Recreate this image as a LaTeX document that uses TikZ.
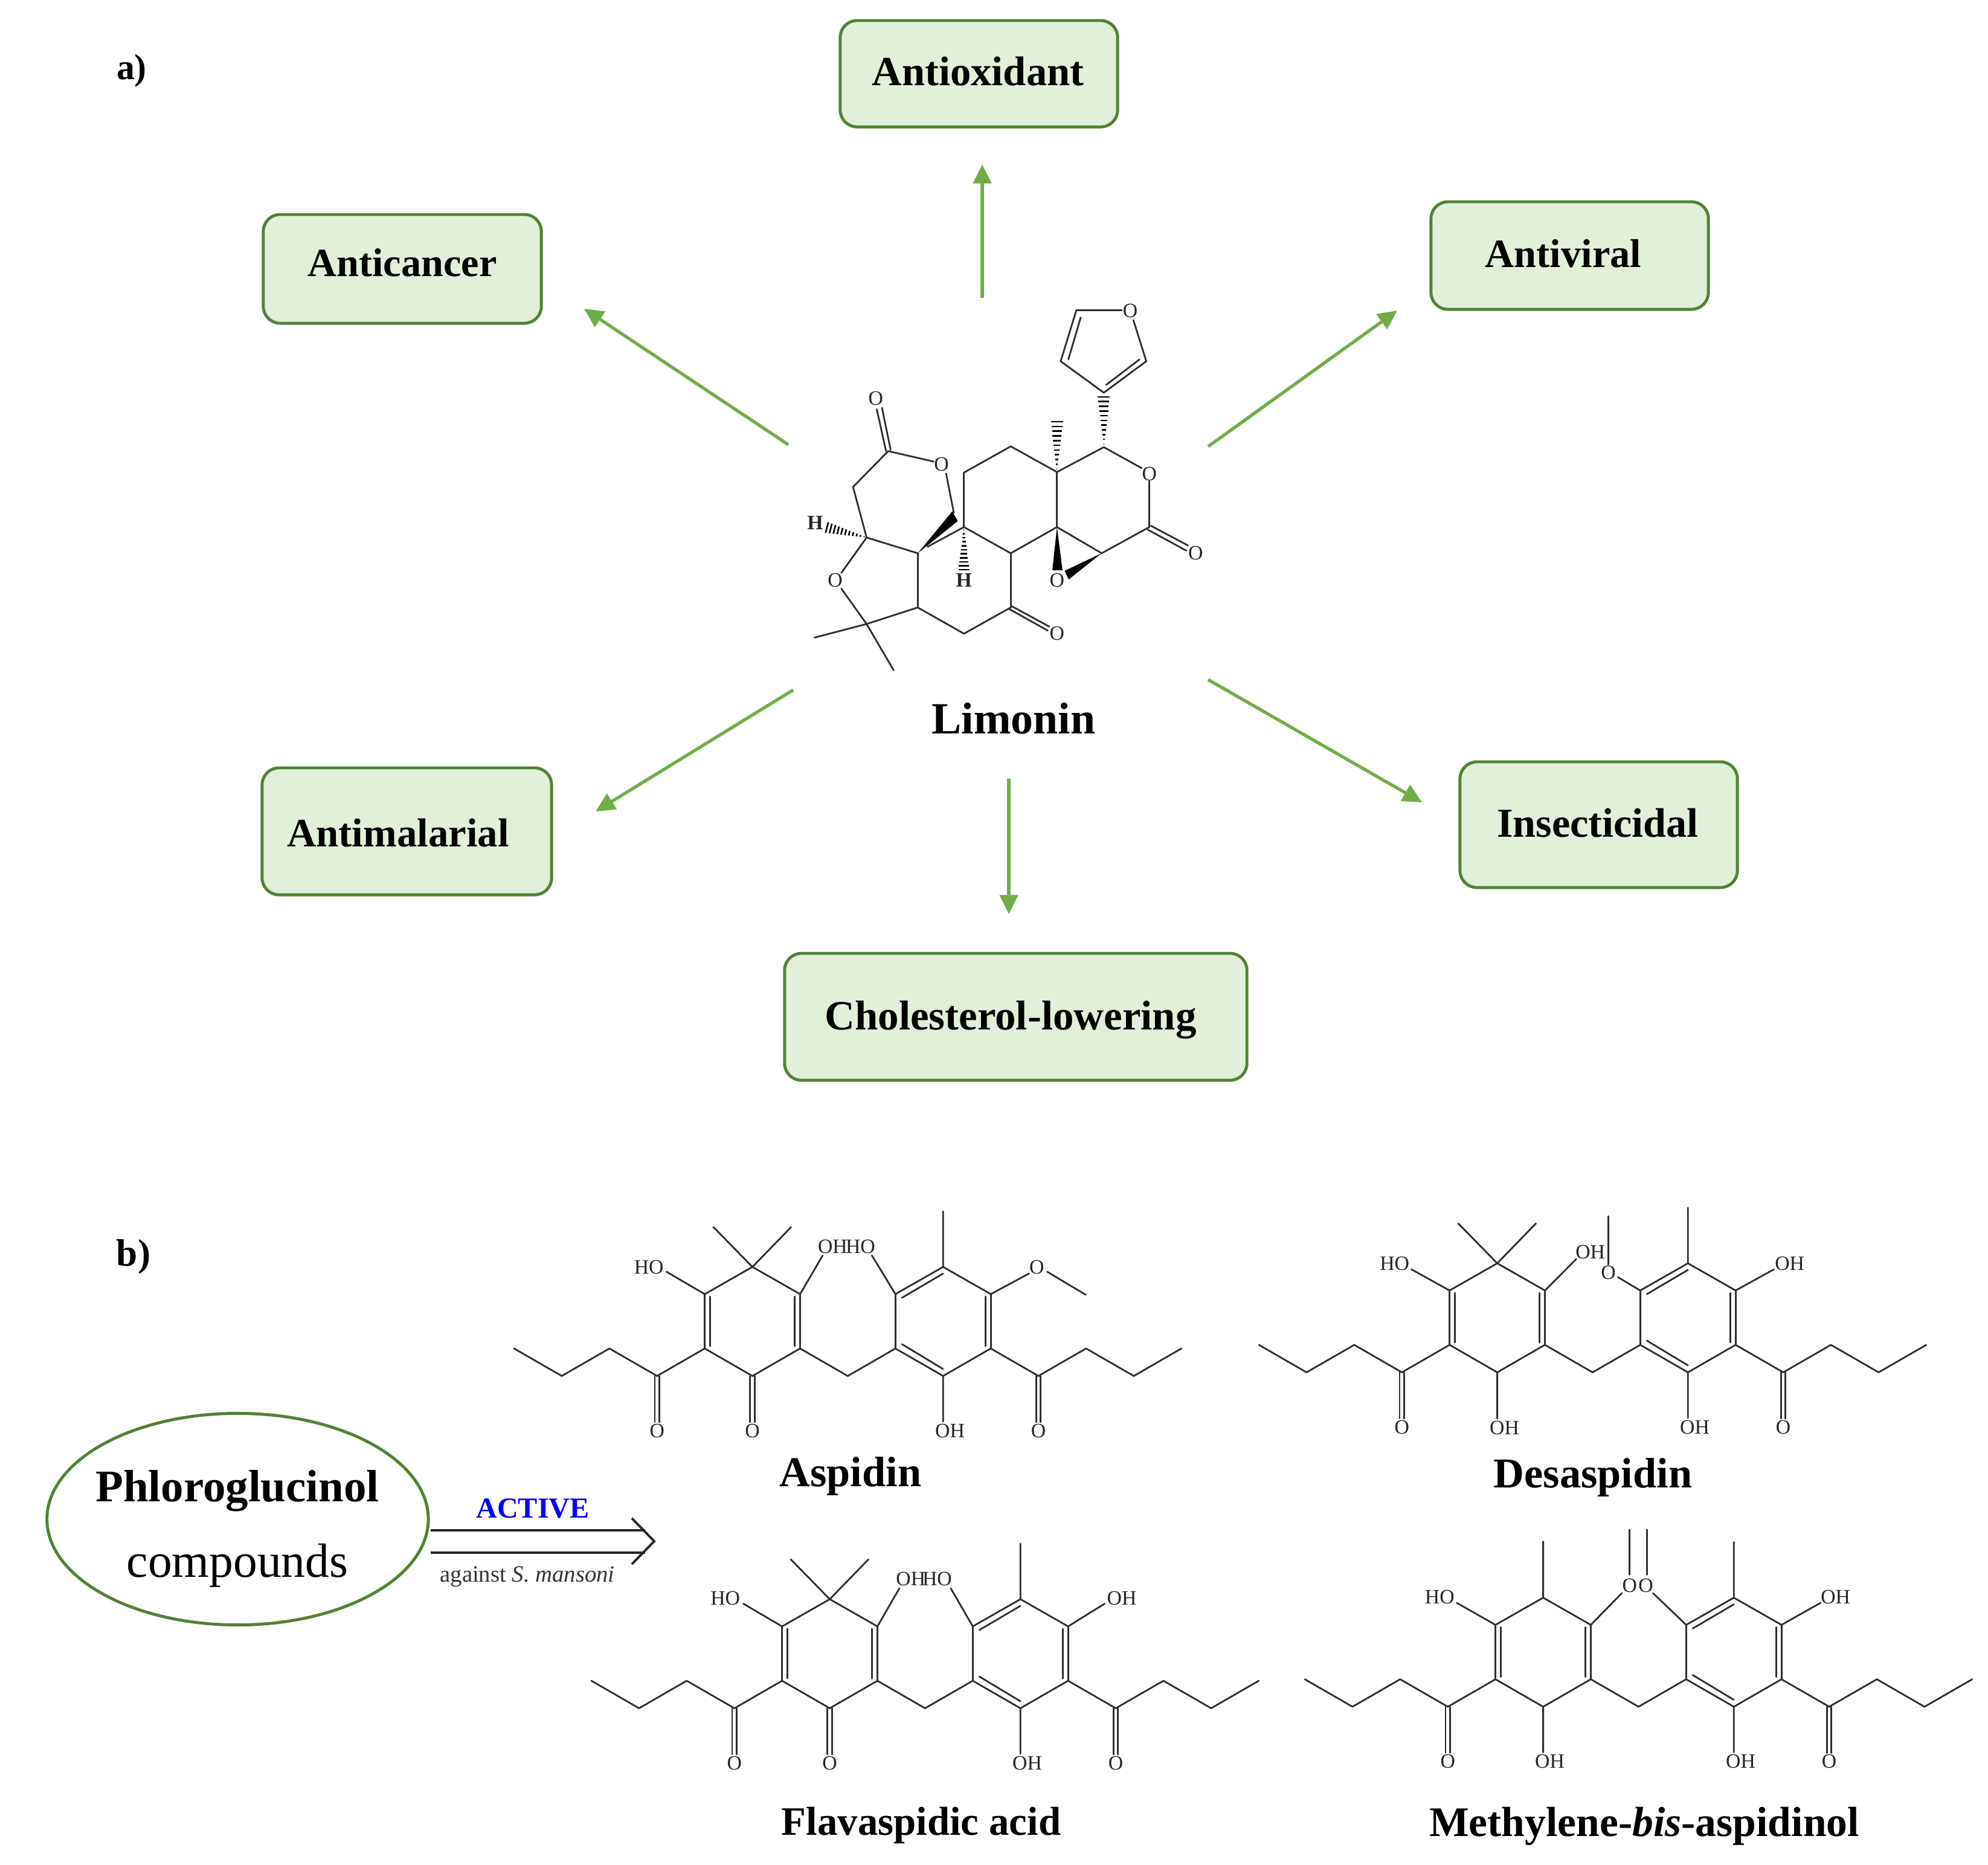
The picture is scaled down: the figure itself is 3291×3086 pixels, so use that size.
\documentclass[tikz,border=0pt]{standalone}
\usepackage{fontspec}
\setmainfont{Liberation Serif}
\usetikzlibrary{arrows.meta,calc,shapes.geometric}
\definecolor{boxfill}{HTML}{E2EFD9}
\definecolor{boxline}{HTML}{538135}
\definecolor{arrowgreen}{HTML}{70AD47}
\newcommand{\fs}[1]{\fontsize{#1}{#1}\selectfont}
\tikzset{
  bond/.style={line width=0.8pt,draw=black!82,line cap=round,line join=round},
  hashline/.style={line width=0.75pt,draw=black},
  wedge/.style={fill=black,draw=none},
  atom/.style={inner sep=0pt,text=black!85,font=\fs{9.6}},
  hatom/.style={inner sep=0pt,text=black!85,font=\bfseries\fs{9.6}},
  box/.style={draw=boxline,fill=boxfill,line width=1.4pt,rounded corners=0.28cm},
  boxtext/.style={anchor=base,inner sep=0pt,font=\bfseries\fs{#1}},
  title/.style={anchor=base,inner sep=0pt,font=\bfseries\fs{#1}},
  arr/.style={draw=arrowgreen,line width=1.5pt,-{Triangle[length=9pt,width=8.5pt,fill=arrowgreen]}},
  thickline/.style={line width=1.1pt,draw=black!85,line join=miter},
  dimer/.style={shift={#1},x=0.00993cm}
}
% hashed bond: narrow at #1, half width #3 at #2
\newcommand{\hashb}[3]{%
  \foreach \t in {0.06,0.15,...,1.0}{%
    \draw[hashline] ($(#1)!\t!(#2)!\t*#3!90:(#2)$) -- ($(#1)!\t!(#2)!\t*#3!-90:(#2)$);
  }%
}
% double bond drawn as two lines through four named coordinates
\newcommand{\pairbond}[3]{%
  \coordinate (#1L) at (#2-3.8,45.5);
  \coordinate (#1R) at (#2+3.8,45.5);
  \coordinate (#1LE) at (#2-3.8,#3);
  \coordinate (#1RE) at (#2+3.8,#3);
  \draw[bond] (#1L) -- (#1LE);
  \draw[bond] (#1R) -- (#1RE);
}
% common skeleton of the four phloroglucinol dimers
\newcommand{\skeleton}{%
  \foreach \n/\i/\y in {c0/0/0,c1/1/45.5,c2/2/0,c3/3/45.5,
    a1/4/0,a2/4/-90,a3/5/-135,a4/6/-90,a5/6/0,a6/5/45.5,m/7/45.5,
    b1/8/0,b2/8/-90,b3/9/-135,b4/10/-90,b5/10/0,b6/9/45.5,
    d3/11/45.5,d2/12/0,d1/13/45.5,d0/14/0}{
    \coordinate (\n) at ({\i*79.4},\y);
  }
  \foreach \a/\b in {c0/c1,c1/c2,c2/c3,c3/a1,a1/a2,a2/a3,a3/a4,a4/a5,a5/a6,a6/a1,
    a5/m,m/b1,b1/b2,b2/b3,b3/b4,b4/b5,b5/b6,b6/b1,b5/d3,d3/d2,d2/d1,d1/d0}{
    \draw[bond] (\a) -- (\b);
  }
  % inner lines of the double bonds
  \foreach \n/\xa/\ya/\xb/\yb in {i1/326.6/-86/326.6/-4,i2/467.4/-86/467.4/-4,
    i3/646.2/-84/714.6/-124,i4/785/-86/785/-4,i5/646.2/-7/714.6/34}{
    \coordinate (\n s) at (\xa,\ya);
    \coordinate (\n e) at (\xb,\yb);
    \draw[bond] (\n s) -- (\n e);
  }
  % acyl carbonyls
  \pairbond{oa}{238.2}{122}
  \pairbond{ob}{873.4}{122}
  \node[atom] (oaL) at (238.2,136) {O};
  \node[atom] (obL) at (873.4,136) {O};
  % OH below ring B
  \coordinate (b6e) at (714.6,121);
  \draw[bond] (b6) -- (b6e);
  \node[atom] (b6L) at (726,136) {OH};
}
\newcommand{\gemdimethyl}{%
  \coordinate (me1) at (332,-201);
  \coordinate (me2) at (461.5,-201);
  \draw[bond] (a3) -- (me1);
  \draw[bond] (a3) -- (me2);
}
\newcommand{\ringbmethyl}{%
  \coordinate (me3) at (714.6,-227);
  \draw[bond] (b3) -- (me3);
}
\newcommand{\subst}[7]{%
  \coordinate (#1e) at (#3,#4);
  \draw[bond] (#2) -- (#1e);
  \node[atom] (#1L) at (#5,#6) {#7};
}
\begin{document}
\begin{tikzpicture}[x=0.01cm,y=-0.01cm]
\useasboundingbox (0,0) rectangle (3291,3086);
\fill[white] (0,0) rectangle (3291,3086);

% ---------- panel labels
\node[anchor=base,inner sep=0pt,font=\bfseries\fs{17}] (pa) at (218,131) {a)};
\node[anchor=base,inner sep=0pt,font=\bfseries\fs{18}] (pb) at (221,2095) {b)};

% ---------- activity boxes
\node[box,minimum width=4.59cm,minimum height=1.76cm] (bxA) at (1620.5,122) {};
\node[box,minimum width=4.60cm,minimum height=1.80cm] (bxC) at (666,445) {};
\node[box,minimum width=4.59cm,minimum height=1.78cm] (bxV) at (2598.5,423) {};
\node[box,minimum width=4.79cm,minimum height=2.10cm] (bxM) at (673.5,1376) {};
\node[box,minimum width=4.59cm,minimum height=2.08cm] (bxI) at (2646.5,1365) {};
\node[box,minimum width=7.65cm,minimum height=2.10cm] (bxL) at (1681.5,1683) {};
\node[boxtext=19.5] (tA) at (1619,141) {Antioxidant};
\node[boxtext=18.85] (tC) at (666,457) {Anticancer};
\node[boxtext=18.9] (tV) at (2588,442) {Antiviral};
\node[boxtext=19] (tM) at (659,1401) {Antimalarial};
\node[boxtext=19.4] (tI) at (2645,1385) {Insecticidal};
\node[boxtext=19.6] (tL) at (1673,1704) {Cholesterol-lowering};

% ---------- activity arrows
\foreach \n/\xa/\ya/\xb/\yb in {up/1626/493/1626/272,
   ca/1305/736/967/511, vi/2000/739/2313/514,
   ma/1313/1142/986/1343, ins/2000/1125/2354/1328, ch/1670/1289/1670/1513}{
  \coordinate (\n S) at (\xa,\ya);
  \coordinate (\n E) at (\xb,\yb);
  \draw[arr] (\n S) -- (\n E);
}

% ---------- limonin
\node[anchor=base,inner sep=0pt,font=\bfseries\fs{21}] (limname) at (1678,1214) {Limonin};
\begin{scope}[shift={(1250,480)},x=0.0051020cm,y=-0.0043365cm]
  \foreach \n/\x/\y in {f1/1043/77,f2/992/272,f3/1132/392,f4/1270/272,fOa/1190/77,fOb/1228/115,
    k17/1132/600,kO1/1255/680,kO2/1280/730,k16/1280/905,k15/1125/1005,k14/980/905,k13/980/695,
    k12/830/597,k11/678/697,k9/678/905,k8/830/1005,k7/830/1212,k6/678/1312,k5/528/1212,k10/528/1005,
    k4/362/1275,me1/193/1327,me2/450/1452,kO3/280/1140,kO4/280/1080,k1/362/945,k2/318/752,k3/432/615,
    kO5/580/655,kO6/620/700,k19/645/850,k9w/560/980,
    i1s/1057/105,i1e/1017/265,i2s/1140/362,i2e/1248/265,
    d1a/1285/900,d1b/1405/975,d1c/1275/915,d1d/1400/995,
    d2a/830/1205,d2b/955/1285,d2c/825/1218,d2d/950/1300,
    d3a/440/610,d3b/412/450,d3c/425/615,d3d/395/455,
    hm/980/495,hf/1132/400,hH/678/1075,hH2/228/905,
    w1a/640/845,w1b/658/882,w2a/965/1070,w2b/998/1070,w3a/1005/1072,w3b/1018/1105}{
    \coordinate (\n) at (\x,\y);
  }
  \foreach \a/\b in {f1/fOa,fOb/f4,f4/f3,f3/f2,f2/f1,i1s/i1e,i2s/i2e,
    k17/kO1,kO2/k16,k16/k15,k15/k14,k14/k13,k13/k17,k13/k12,k12/k11,k11/k9,k9/k8,k8/k14,
    k8/k7,k7/k6,k6/k5,k5/k10,k5/k4,k4/me1,k4/me2,k4/kO3,kO4/k1,k1/k10,k1/k2,k2/k3,
    k3/kO5,kO6/k19,k9/k9w,d1a/d1b,d1c/d1d,d2a/d2b,d2c/d2d,d3a/d3b,d3c/d3d}{
    \draw[bond] (\a) -- (\b);
  }
  \hashb{k17}{hf}{3pt}
  \hashb{k13}{hm}{3pt}
  \hashb{k9}{hH}{2.7pt}
  \hashb{k1}{hH2}{2.7pt}
  \fill[wedge] (k10) -- (w1a) -- (w1b) -- cycle;
  \fill[wedge] (k14) -- (w2a) -- (w2b) -- cycle;
  \fill[wedge] (k15) -- (w3a) -- (w3b) -- cycle;
  \node[atom] (LO1) at (1218,80) {O};
  \node[atom] (LO2) at (1280,703) {O};
  \node[atom] (LO3) at (1430,1005) {O};
  \node[atom] (LO4) at (980,1108) {O};
  \node[atom] (LO5) at (980,1312) {O};
  \node[atom] (LO6) at (260,1108) {O};
  \node[atom] (LO7) at (605,665) {O};
  \node[atom] (LO8) at (392,415) {O};
  \node[hatom] (LH1) at (195,890) {H};
  \node[hatom] (LH2) at (678,1108) {H};
\end{scope}

% ---------- aspidin
\begin{scope}[dimer={(851,2232)},name prefix=asp-]
  \skeleton \gemdimethyl \ringbmethyl
  \pairbond{oc}{397}{122}
  \node[atom] (ocL) at (397,136) {O};
  \subst{s1}{a2}{253.8}{-127}{224.6}{-135}{HO}
  \subst{s2}{a4}{514}{-154}{530.7}{-169}{OH}
  \subst{s3}{b2}{596}{-154}{577}{-169}{HO}
  \subst{s4}{b4}{857.7}{-124}{870.7}{-135}{O}
  \coordinate (om1) at (888,-127);
  \coordinate (om2) at (952,-89);
  \draw[bond] (om1) -- (om2);
\end{scope}

% ---------- desaspidin
\begin{scope}[dimer={(2084,2226)},name prefix=des-]
  \skeleton \gemdimethyl \ringbmethyl
  \subst{s5}{a6}{397}{122}{409}{137}{OH}
  \subst{s1}{a2}{254}{-125}{226}{-135}{HO}
  \subst{s2}{a4}{528.6}{-142}{552}{-154}{OH}
  \subst{s3}{b2}{598}{-112}{582}{-120}{O}
  \subst{s4}{b4}{858}{-125}{884}{-135}{OH}
  \coordinate (om1) at (582,-133);
  \coordinate (om2) at (582,-213);
  \draw[bond] (om1) -- (om2);
\end{scope}

% ---------- flavaspidic acid
\begin{scope}[dimer={(979,2782)},name prefix=fla-]
  \skeleton \gemdimethyl \ringbmethyl
  \pairbond{oc}{397}{122}
  \node[atom] (ocL) at (397,136) {O};
  \subst{s1}{a2}{253}{-127.6}{223}{-136.5}{HO}
  \subst{s2}{a4}{513}{-153}{532}{-168.6}{OH}
  \subst{s3}{b2}{598.6}{-153}{576}{-168.6}{HO}
  \subst{s4}{b4}{855}{-127.6}{883.4}{-136.5}{OH}
\end{scope}

% ---------- methylene-bis-aspidinol
\begin{scope}[dimer={(2160,2779.5)},name prefix=met-]
  \skeleton \ringbmethyl
  \coordinate (me0) at (397,-228);
  \draw[bond] (a3) -- (me0);
  \subst{s5}{a6}{397}{121}{408}{136}{OH}
  \subst{s1}{a2}{253}{-126.5}{224.7}{-136}{HO}
  \subst{s2}{a4}{528}{-142.5}{541}{-155}{O}
  \subst{s3}{b2}{580}{-142.5}{568}{-155}{O}
  \subst{s4}{b4}{859}{-126.5}{884}{-136}{OH}
  \coordinate (om1) at (541,-173);
  \coordinate (om2) at (541,-247.5);
  \coordinate (om3) at (570,-173);
  \coordinate (om4) at (570,-247.5);
  \draw[bond] (om1) -- (om2);
  \draw[bond] (om3) -- (om4);
\end{scope}

% ---------- compound names
\node[title=20] (nAsp) at (1408,2460) {Aspidin};
\node[title=20] (nDes) at (2637,2462) {Desaspidin};
\node[title=19] (nFla) at (1525,3037) {Flavaspidic acid};
\node[title=19.8] (nMet) at (2722,3039) {Methylene-\textit{bis}-aspidinol};

% ---------- phloroglucinol ellipse and arrow
\node[ellipse,draw=boxline,line width=1.4pt,fill=white,minimum width=6.31cm,minimum height=3.50cm,inner sep=0pt] (ell) at (393.4,2514.5) {};
\node[anchor=base,inner sep=0pt,font=\bfseries\fs{21.3}] (ph1) at (393,2485) {Phloroglucinol};
\node[anchor=base,inner sep=0pt,font=\fs{22.6}] (ph2) at (393,2610) {compounds};
\coordinate (ar1s) at (713,2533);
\coordinate (ar1e) at (1068,2533);
\coordinate (ar2s) at (713,2570);
\coordinate (ar2e) at (1068,2570);
\coordinate (arT) at (1046,2513);
\coordinate (arM) at (1083,2551);
\coordinate (arB) at (1046,2589);
\draw[thickline] (ar1s) -- (ar1e);
\draw[thickline] (ar2s) -- (ar2e);
\draw[thickline] (arT) -- (arM) -- (arB);
\node[anchor=base,inner sep=0pt,text=blue,font=\bfseries\fs{13.7}] (act) at (882,2512) {ACTIVE};
\node[anchor=base,inner sep=0pt,text=black!80,font=\fs{11}] (against) at (873,2618) {against \textit{S. mansoni}};
\end{tikzpicture}
\end{document}
